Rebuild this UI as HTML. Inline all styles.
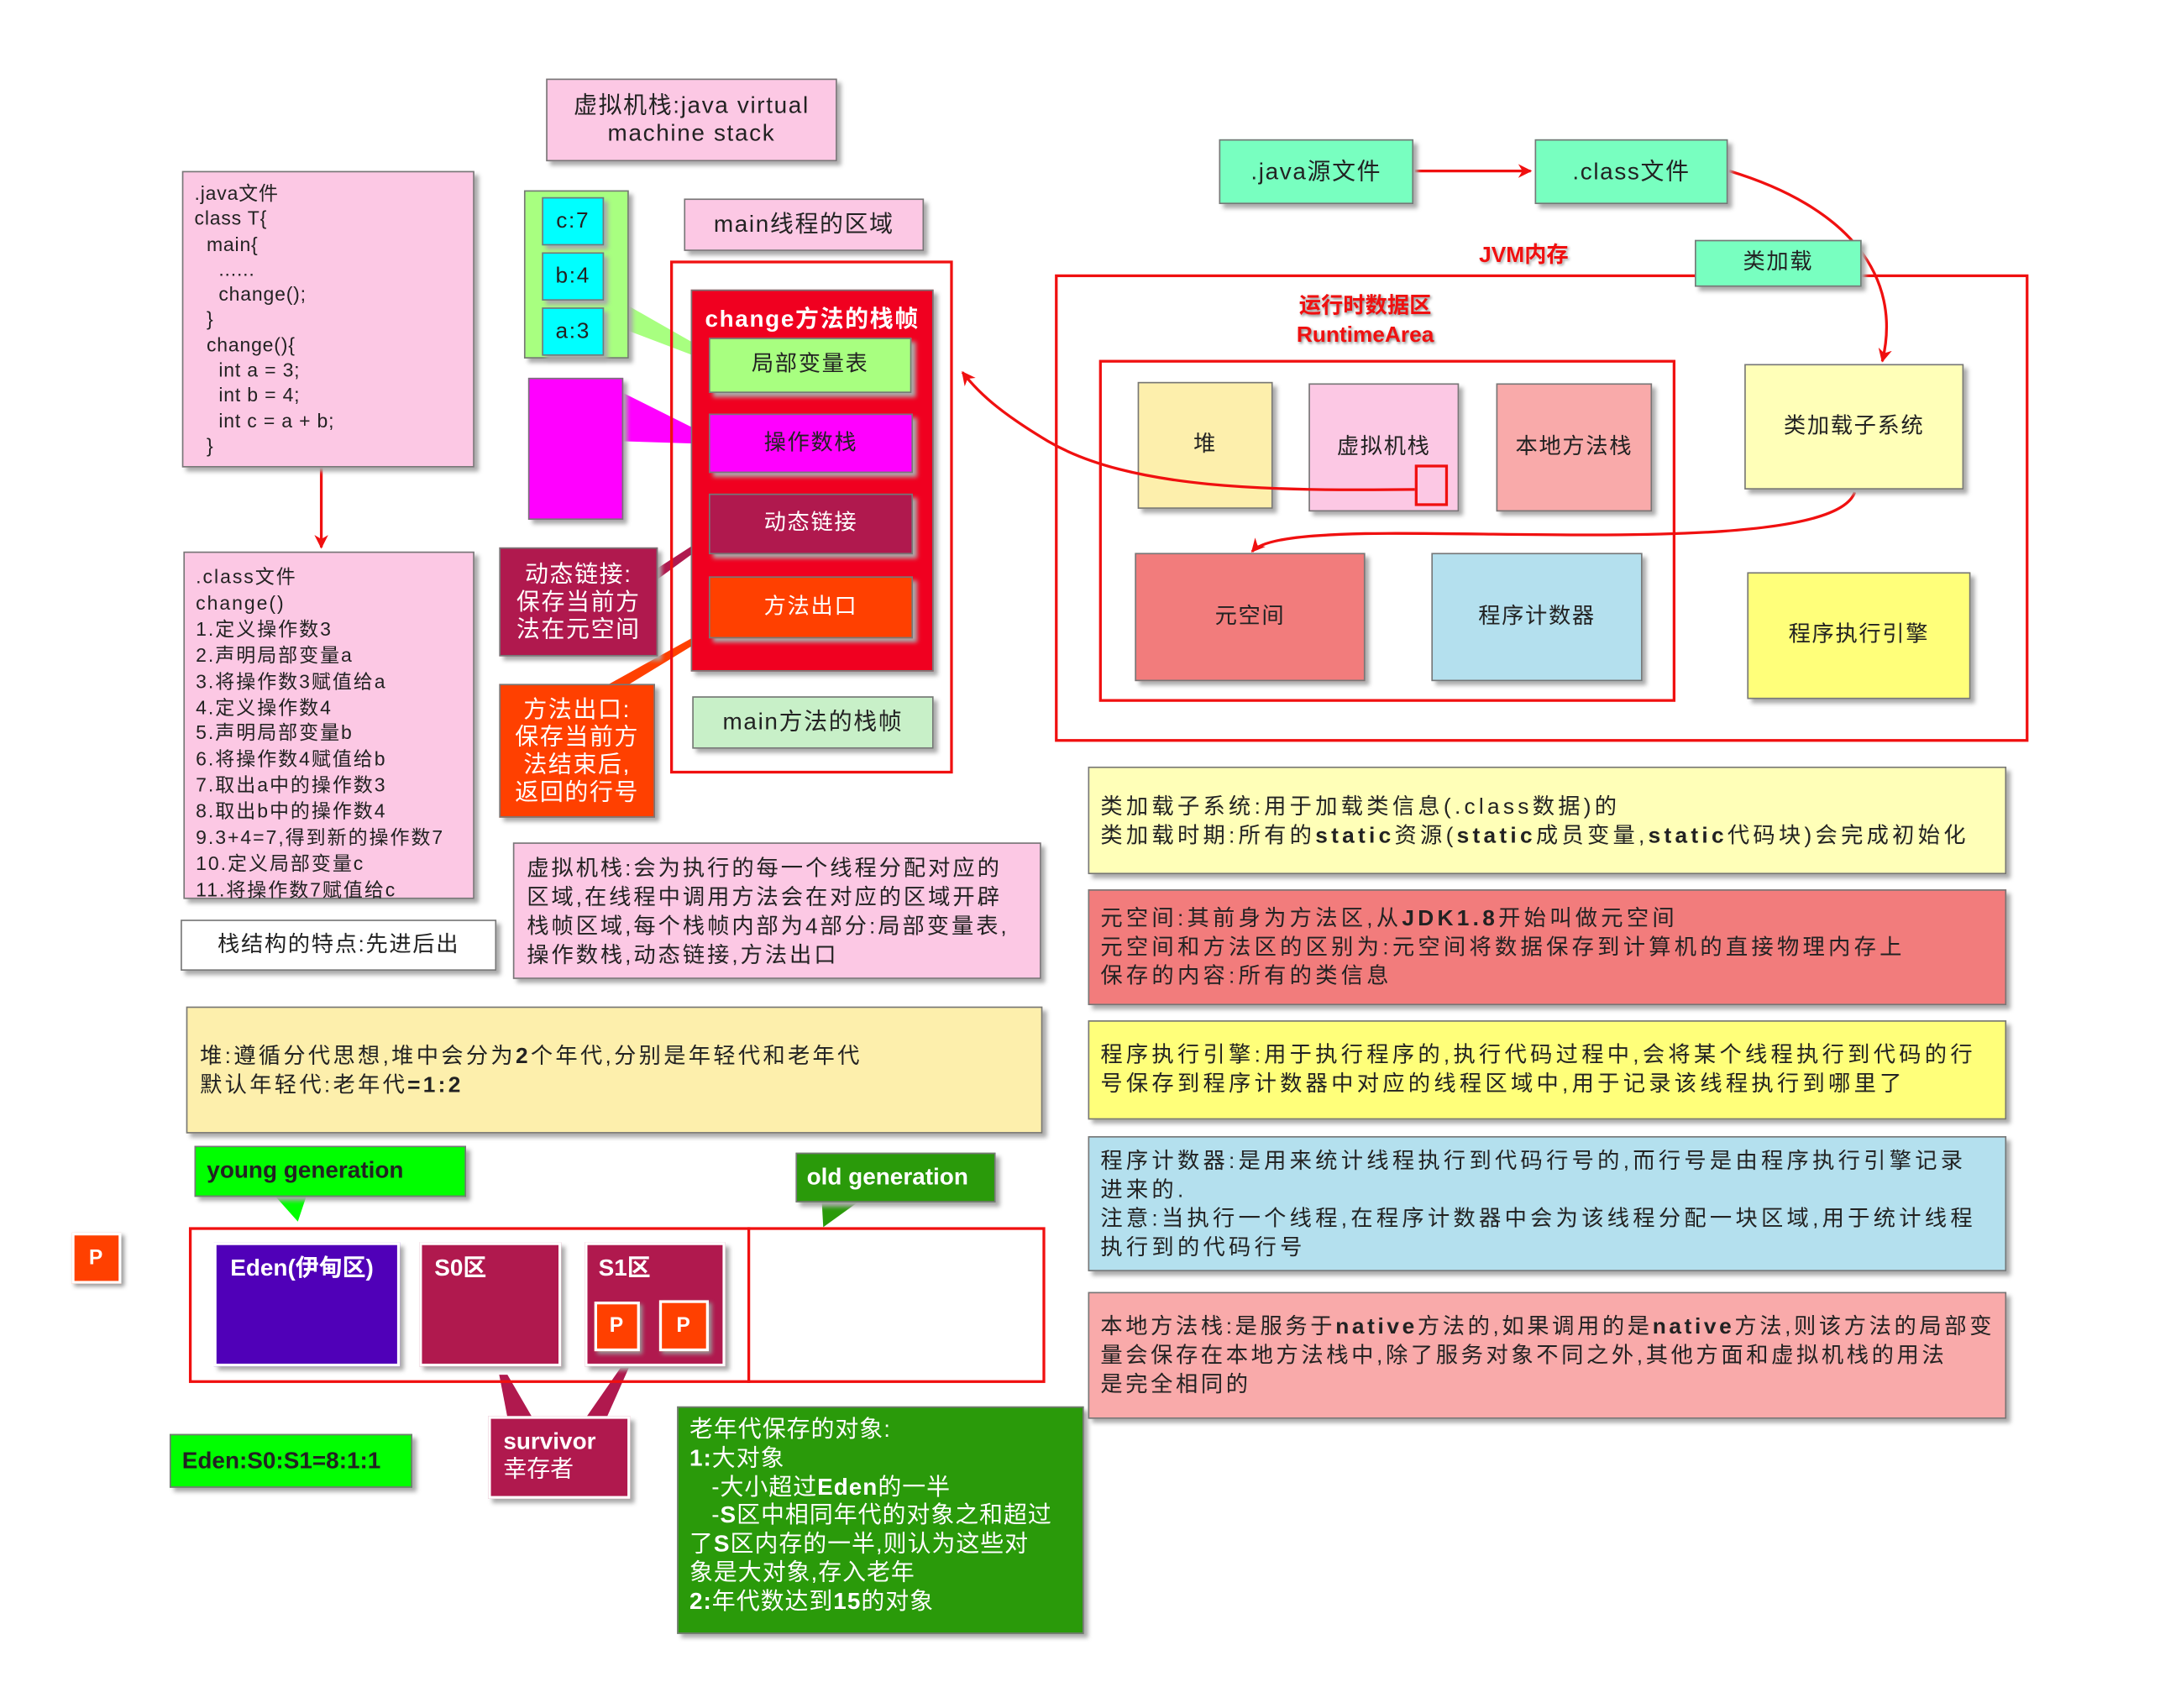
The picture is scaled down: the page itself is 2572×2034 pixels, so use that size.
<!DOCTYPE html>
<html><head><meta charset="utf-8">
<style>
html,body{margin:0;padding:0;background:#fff;width:2572px;height:2034px;overflow:hidden}
#w{position:absolute;left:0;top:0;width:1566px;height:1239px;transform:scale(1.6420);transform-origin:0 0;font-family:"Liberation Sans","Noto Sans CJK SC",sans-serif;color:#222}
.b{position:absolute;box-sizing:border-box;border:1px solid #777;box-shadow:3px 3px 3px #aaa;white-space:nowrap;font-size:16px;line-height:20px;letter-spacing:1px}
.c{display:flex;align-items:center;justify-content:center;text-align:center}
.n{letter-spacing:2.6px}
.r{position:absolute;box-sizing:border-box;border:2px solid #f01010}
.w{color:#fff}
.pk{background:#fcc8e4}
.p{background:#ff4000;color:#fff;font-weight:bold;border:2px solid #fff;box-shadow:2px 2px 3px #999;font-size:15px}
</style></head><body><div id="w">
<svg width="1566" height="1239" style="position:absolute;left:0;top:0">
<defs><marker id="a" markerWidth="10" markerHeight="10" refX="9" refY="5" orient="auto" markerUnits="userSpaceOnUse"><path d="M0,0 L10,5 L0,10 L3,5z" fill="#f01010"/></marker></defs>
<g fill="none" stroke="#f01010" stroke-width="2">
<path d="M233,339 L233,397" marker-end="url(#a)"/>
<path d="M1026,124 L1110,124" marker-end="url(#a)"/>
<path d="M1254,124 C1340,150 1380,200 1365,262" marker-end="url(#a)"/>
<path d="M1345,357 C1330,400 1100,385 990,387 C940,388 915,392 908,400" marker-end="url(#a)"/>
</g>
<polygon points="456,222 456,240 514,262 514,255" fill="#a8ff80"/>
<polygon points="452,285 452,320 514,322 514,316" fill="#ff00ff"/>
<polygon points="477,412 477,420 514,393 514,388" fill="#b0194e"/>
<polygon points="440,497 455,497 514,461 514,456" fill="#ff4000"/>
<polygon points="200,868 222,868 216,886" fill="#00ff00"/>
<polygon points="596,872 622,872 597,890" fill="#2a9a0a"/>
<polygon points="362,997 368,997 386,1028 368,1028" fill="#b0194e"/>
<polygon points="450,992 456,992 440,1028 425,1028" fill="#b0194e"/>
</svg>

<div class="b pk c" style="left:396px;top:57px;width:211px;height:60px;font-size:17px">虚拟机栈:java virtual<br>machine stack</div>
<div class="b pk" style="left:132px;top:124px;width:212px;height:215px;padding:6px 8px;font-size:14px;line-height:18.3px;letter-spacing:0.5px">.java文件<br>class T{<br>&nbsp;&nbsp;main{<br>&nbsp;&nbsp;&nbsp;&nbsp;......<br>&nbsp;&nbsp;&nbsp;&nbsp;change();<br>&nbsp;&nbsp;}<br>&nbsp;&nbsp;change(){<br>&nbsp;&nbsp;&nbsp;&nbsp;int a = 3;<br>&nbsp;&nbsp;&nbsp;&nbsp;int b = 4;<br>&nbsp;&nbsp;&nbsp;&nbsp;int c = a + b;<br>&nbsp;&nbsp;}</div>
<div class="b pk" style="left:133px;top:400px;width:211px;height:252px;padding:8px 8px;font-size:14px;line-height:18.9px;letter-spacing:1.2px">.class文件<br>change()<br>1.定义操作数3<br>2.声明局部变量a<br>3.将操作数3赋值给a<br>4.定义操作数4<br>5.声明局部变量b<br>6.将操作数4赋值给b<br>7.取出a中的操作数3<br>8.取出b中的操作数4<br>9.3+4=7,得到新的操作数7<br>10.定义局部变量c<br>11.将操作数7赋值给c</div>
<div class="b c" style="left:131px;top:667px;width:229px;height:37px;background:#fff">栈结构的特点:先进后出</div>

<div class="b" style="left:380px;top:138px;width:76px;height:122px;background:#a8ff80"></div>
<div class="b c" style="left:393px;top:143px;width:45px;height:35px;background:#00ffff">c:7</div>
<div class="b c" style="left:393px;top:183px;width:45px;height:35px;background:#00ffff">b:4</div>
<div class="b c" style="left:393px;top:223px;width:45px;height:35px;background:#00ffff">a:3</div>
<div class="b" style="left:383px;top:274px;width:69px;height:103px;background:#ff00ff"></div>

<div class="b pk c" style="left:496px;top:144px;width:174px;height:38px;font-size:17px">main线程的区域</div>
<div class="r" style="left:486px;top:189px;width:205px;height:372px"></div>
<div class="b" style="left:501px;top:210px;width:176px;height:277px;background:#f00020"></div>
<div class="w" style="position:absolute;left:501px;top:217px;width:176px;text-align:center;font-weight:bold;font-size:17px;letter-spacing:1px">change方法的栈帧</div>
<div class="b c" style="left:514px;top:245px;width:147px;height:40px;background:#a8ff80">局部变量表</div>
<div class="b c" style="left:514px;top:300px;width:148px;height:43px;background:#ff00ff">操作数栈</div>
<div class="b c w" style="left:514px;top:358px;width:148px;height:44px;background:#b0194e">动态链接</div>
<div class="b c w" style="left:514px;top:418px;width:148px;height:45px;background:#ff4000">方法出口</div>
<div class="b c" style="left:502px;top:505px;width:175px;height:38px;background:#c8f0c8;font-size:17px">main方法的栈帧</div>

<div class="b c w" style="left:362px;top:397px;width:115px;height:79px;background:#b0194e;font-size:17px">动态链接:<br>保存当前方<br>法在元空间</div>
<div class="b c w" style="left:362px;top:496px;width:113px;height:97px;background:#ff4000;font-size:17px">方法出口:<br>保存当前方<br>法结束后,<br>返回的行号</div>
<div class="b pk n" style="left:372px;top:611px;width:383px;height:99px;padding:8px 9px;line-height:21px;letter-spacing:1.8px">虚拟机栈:会为执行的每一个线程分配对应的<br>区域,在线程中调用方法会在对应的区域开辟<br>栈帧区域,每个栈帧内部为4部分:局部变量表,<br>操作数栈,动态链接,方法出口</div>

<div class="b n" style="left:135px;top:730px;width:621px;height:92px;background:#fdefac;padding:25px 9px;line-height:21px;letter-spacing:2px">堆:遵循分代思想,堆中会分为<b>2</b>个年代,分别是年轻代和老年代<br>默认年轻代:老年代<b>=1:2</b></div>
<div class="b" style="left:141px;top:831px;width:197px;height:37px;background:#00ff00;padding:7px 8px;font-weight:bold;font-size:17px;letter-spacing:0">young generation</div>
<div class="b w" style="left:577px;top:836px;width:145px;height:36px;background:#2a9a0a;padding:7px 7px;font-weight:bold;font-size:17px;letter-spacing:0">old generation</div>
<div class="r" style="left:137px;top:890px;width:621px;height:113px"></div>
<div style="position:absolute;left:542px;top:890px;width:2px;height:113px;background:#f01010"></div>
<div class="b w" style="left:155px;top:901px;width:135px;height:90px;background:#5000b8;border:2px solid #fff;padding:7px 10px;font-weight:bold;font-size:17px;letter-spacing:0">Eden(伊甸区)</div>
<div class="b w" style="left:304px;top:901px;width:103px;height:90px;background:#b0194e;border:2px solid #fff;padding:7px 9px;font-weight:bold;font-size:17px;letter-spacing:0">S0区</div>
<div class="b w" style="left:424px;top:901px;width:102px;height:90px;background:#b0194e;border:2px solid #fff;padding:7px 8px;font-weight:bold;font-size:17px;letter-spacing:0">S1区</div>
<div class="b c p" style="left:431px;top:944px;width:33px;height:36px">P</div>
<div class="b c p" style="left:478px;top:943px;width:36px;height:37px">P</div>
<div class="b c p" style="left:52px;top:894px;width:36px;height:37px">P</div>
<div class="b w" style="left:354px;top:1027px;width:103px;height:60px;background:#b0194e;border:2px solid #fff;padding:7px 9px;font-size:17px;letter-spacing:0"><b>survivor</b><br>幸存者</div>
<div class="b" style="left:123px;top:1040px;width:176px;height:39px;background:#00ff00;padding:9px 8px;font-weight:bold;font-size:17px;letter-spacing:0">Eden:S0:S1=8:1:1</div>
<div class="b w" style="left:491px;top:1020px;width:295px;height:165px;background:#2a9a0a;padding:6px 8px;font-size:17px;line-height:20.8px;letter-spacing:0.6px">老年代保存的对象:<br><b>1:</b>大对象<br>&nbsp;&nbsp;&nbsp;-大小超过<b>Eden</b>的一半<br>&nbsp;&nbsp;&nbsp;-<b>S</b>区中相同年代的对象之和超过<br>了<b>S</b>区内存的一半,则认为这些对<br>象是大对象,存入老年<br><b>2:</b>年代数达到<b>15</b>的对象</div>

<div class="b c" style="left:884px;top:101px;width:141px;height:47px;background:#78ffc0;font-size:17px">.java源文件</div>
<div class="b c" style="left:1113px;top:101px;width:140px;height:47px;background:#78ffc0;font-size:17px">.class文件</div>
<div class="r" style="left:765px;top:199px;width:706px;height:339px"></div>
<div class="b c" style="left:1229px;top:174px;width:121px;height:34px;background:#78ffc0">类加载</div>
<div style="position:absolute;left:1060px;top:171px;width:90px;text-align:center;color:#f01010;font-weight:bold;font-size:16px;text-shadow:0 0 2px #fff,1px 1px 2px #888">JVM内存</div>
<div style="position:absolute;left:920px;top:212px;width:140px;text-align:center;color:#f01010;font-weight:bold;font-size:16px;line-height:21px;text-shadow:1px 1px 2px #888">运行时数据区<br>RuntimeArea</div>
<div class="r" style="left:797px;top:261px;width:418px;height:248px"></div>
<div class="b c" style="left:825px;top:277px;width:98px;height:92px;background:#fdefac">堆</div>
<div class="b c pk" style="left:949px;top:278px;width:109px;height:93px">虚拟机栈</div>
<div class="b c" style="left:1085px;top:278px;width:113px;height:93px;background:#f9aaaa">本地方法栈</div>
<div class="r" style="left:1026px;top:337px;width:24px;height:30px"></div>
<div class="b c" style="left:823px;top:401px;width:167px;height:93px;background:#f27c7c">元空间</div>
<div class="b c" style="left:1038px;top:401px;width:153px;height:93px;background:#b4e0ee">程序计数器</div>
<div class="b c" style="left:1265px;top:264px;width:159px;height:91px;background:#ffffb8">类加载子系统</div>
<div class="b c" style="left:1267px;top:415px;width:162px;height:92px;background:#ffff7a">程序执行引擎</div>

<svg width="1566" height="1239" style="position:absolute;left:0;top:0;pointer-events:none">
<defs><marker id="a2" markerWidth="10" markerHeight="10" refX="9" refY="5" orient="auto" markerUnits="userSpaceOnUse"><path d="M0,0 L10,5 L0,10 L3,5z" fill="#f01010"/></marker></defs>
<path d="M1026,355 C920,356 820,355 760,320 C730,302 712,288 698,270" fill="none" stroke="#f01010" stroke-width="2" marker-end="url(#a2)"/>
</svg>

<div class="b n" style="left:789px;top:556px;width:666px;height:78px;background:#ffffb8;padding:18px 8px;line-height:21px">类加载子系统:用于加载类信息(.class数据)的<br>类加载时期:所有的<b>static</b>资源(<b>static</b>成员变量,<b>static</b>代码块)会完成初始化</div>
<div class="b n" style="left:789px;top:645px;width:666px;height:84px;background:#f27c7c;padding:10px 8px;line-height:21px">元空间:其前身为方法区,从<b>JDK1.8</b>开始叫做元空间<br>元空间和方法区的区别为:元空间将数据保存到计算机的直接物理内存上<br>保存的内容:所有的类信息</div>
<div class="b n" style="left:789px;top:740px;width:666px;height:72px;background:#ffff7a;padding:14px 8px;line-height:21px">程序执行引擎:用于执行程序的,执行代码过程中,会将某个线程执行到代码的行<br>号保存到程序计数器中对应的线程区域中,用于记录该线程执行到哪里了</div>
<div class="b n" style="left:789px;top:824px;width:666px;height:98px;background:#b4e0ee;padding:7px 8px;line-height:21px">程序计数器:是用来统计线程执行到代码行号的,而行号是由程序执行引擎记录<br>进来的.<br>注意:当执行一个线程,在程序计数器中会为该线程分配一块区域,用于统计线程<br>执行到的代码行号</div>
<div class="b n" style="left:789px;top:937px;width:666px;height:92px;background:#f9aaaa;padding:14px 8px;line-height:21px;letter-spacing:2.2px">本地方法栈:是服务于<b>native</b>方法的,如果调用的是<b>native</b>方法,则该方法的局部变<br>量会保存在本地方法栈中,除了服务对象不同之外,其他方面和虚拟机栈的用法<br>是完全相同的</div>
</div></body></html>
